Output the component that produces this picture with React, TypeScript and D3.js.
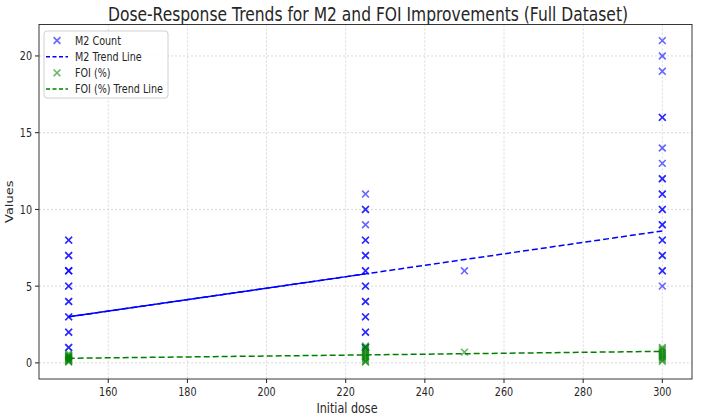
import React, {useEffect, useRef} from "react";
import * as d3 from "d3";

// doses and the values
const m2Dose150 = [1, 1, 2, 2, 3, 3, 4, 4, 5, 5, 6, 6, 6, 7, 7, 8, 8];
const m2Dose225 = [1, 1, 2, 2, 3, 3, 4, 4, 5, 5, 6, 6, 7, 7, 8, 8, 9, 10, 10, 11];
const m2Dose250 = [6];
const m2Dose300 = [5, 6, 6, 7, 7, 8, 8, 9, 9, 10, 10, 11, 11, 12, 12, 13, 14, 16, 16, 19, 20, 21];

const foiDose150 = [0.05, 0.1, 0.15, 0.2, 0.25, 0.3, 0.35, 0.4, 0.45, 0.5, 0.6];
const foiDose225 = [0.05, 0.1, 0.2, 0.3, 0.4, 0.5, 0.6, 0.7, 0.8, 0.9, 1.0, 1.1];
const foiDose250 = [0.7];
const foiDose300 = [0.1, 0.2, 0.3, 0.4, 0.5, 0.6, 0.7, 0.8, 0.9, 1.0];

const trendDoses = [150, 225, 300];
const m2Trend = [3.0, 5.8, 8.6];
const foiTrend = [0.3, 0.52, 0.75];

const xTicks = [160, 180, 200, 220, 240, 260, 280, 300];
const yTicks = [0, 5, 10, 15, 20];

const legendItems = ["M2 Count", "M2 Trend Line", "FOI (%)", "FOI (%) Trend Line"];

const W = 701, H = 418;
const left = 39, right = 692, top = 24.5, bottom = 379;
const SQ = 0.8; // text is squeezed horizontally in the picture

const App = () => {
    const svgRef = useRef(null);

    useEffect(() => {
        const svg = d3.select(svgRef.current);
        svg.selectAll("*").remove();

        const x = d3.scaleLinear().domain([142.5, 307.5]).range([left, right]);
        const y = d3.scaleLinear().domain([-1.05, 22.05]).range([bottom, top]);

        const font = "DejaVu Sans, sans-serif";
        const txt = (g: any, tx: number, ty: number, s: string, size: number, anchor = "middle") =>
            g.append("text")
                .attr("transform", `translate(${tx},${ty}) scale(${SQ},1)`)
                .attr("text-anchor", anchor)
                .attr("font-family", font)
                .attr("font-size", size)
                .attr("fill", "#262626")
                .text(s);

        svg.append("rect").attr("width", W).attr("height", H).attr("fill", "white");

        // grid
        const grid = svg.append("g").attr("stroke", "#cfcfcf").attr("stroke-width", 0.8).attr("stroke-dasharray", "2,2");
        xTicks.forEach(t => grid.append("line").attr("x1", x(t)).attr("x2", x(t)).attr("y1", top).attr("y2", bottom));
        yTicks.forEach(t => grid.append("line").attr("x1", left).attr("x2", right).attr("y1", y(t)).attr("y2", y(t)));

        // points
        const cross = (g: any, cx: number, cy: number, color: string) => {
            const s = 3.4;
            g.append("path")
                .attr("d", `M${cx - s},${cy - s}L${cx + s},${cy + s}M${cx - s},${cy + s}L${cx + s},${cy - s}`)
                .attr("stroke", color).attr("stroke-width", 1.6).attr("stroke-opacity", 0.6).attr("fill", "none");
        };
        const pts = svg.append("g");
        const m2Groups: [number, number[]][] = [[150, m2Dose150], [225, m2Dose225], [250, m2Dose250], [300, m2Dose300]];
        const foiGroups: [number, number[]][] = [[150, foiDose150], [225, foiDose225], [250, foiDose250], [300, foiDose300]];
        m2Groups.forEach(([d, vals]) => vals.forEach(v => cross(pts, x(d), y(v), "blue")));
        foiGroups.forEach(([d, vals]) => vals.forEach(v => cross(pts, x(d), y(v), "green")));

        // trend lines
        const line = d3.line<number>().x((_, i) => x(trendDoses[i])).y(v => y(v));
        svg.append("path").attr("d", line(m2Trend)).attr("fill", "none").attr("stroke", "blue")
            .attr("stroke-width", 1.5).attr("stroke-dasharray", "6,3");
        svg.append("path").attr("d", line(m2Trend.slice(0, 2))).attr("fill", "none").attr("stroke", "blue")
            .attr("stroke-width", 1.5);
        svg.append("path").attr("d", line(foiTrend)).attr("fill", "none").attr("stroke", "green")
            .attr("stroke-width", 1.5).attr("stroke-dasharray", "6,3");

        // frame
        svg.append("rect").attr("x", left).attr("y", top).attr("width", right - left).attr("height", bottom - top)
            .attr("fill", "none").attr("stroke", "#222").attr("stroke-width", 0.9);

        // ticks
        const ax = svg.append("g");
        xTicks.forEach(t => {
            ax.append("line").attr("x1", x(t)).attr("x2", x(t)).attr("y1", bottom).attr("y2", bottom + 4).attr("stroke", "#222");
            txt(ax, x(t), bottom + 17, String(t), 12);
        });
        yTicks.forEach(t => {
            ax.append("line").attr("x1", left - 4).attr("x2", left).attr("y1", y(t)).attr("y2", y(t)).attr("stroke", "#222");
            txt(ax, left - 7, y(t) + 4.5, String(t), 12, "end");
        });

        txt(svg, 347, 413, "Initial dose", 14);
        svg.append("text")
            .attr("transform", `translate(13,${(top + bottom) / 2}) rotate(-90) scale(1,${SQ})`)
            .attr("text-anchor", "middle").attr("font-family", font).attr("font-size", 13).attr("fill", "#262626")
            .text("Values");
        txt(svg, 368, 21, "Dose-Response Trends for M2 and FOI Improvements (Full Dataset)", 19.4);

        // legend
        const lg = svg.append("g");
        lg.append("rect").attr("x", 44).attr("y", 31).attr("width", 124).attr("height", 67).attr("rx", 3)
            .attr("fill", "white").attr("fill-opacity", 0.8).attr("stroke", "#d0d0d0");
        legendItems.forEach((name, i) => {
            const ly = 40.5 + i * 16.2;
            const color = i < 2 ? "blue" : "green";
            if (i % 2 === 0) cross(lg, 57, ly, color);
            else lg.append("line").attr("x1", 46).attr("x2", 68).attr("y1", ly).attr("y2", ly)
                .attr("stroke", color).attr("stroke-width", 1.5).attr("stroke-dasharray", "4,2.5");
            txt(lg, 75, ly + 4, name, 12, "start");
        });
    }, []);

    return (
        <svg ref={svgRef} width={W} height={H} style={{position: "absolute", left: 0, top: 0}}/>
    );
};

export default App;
